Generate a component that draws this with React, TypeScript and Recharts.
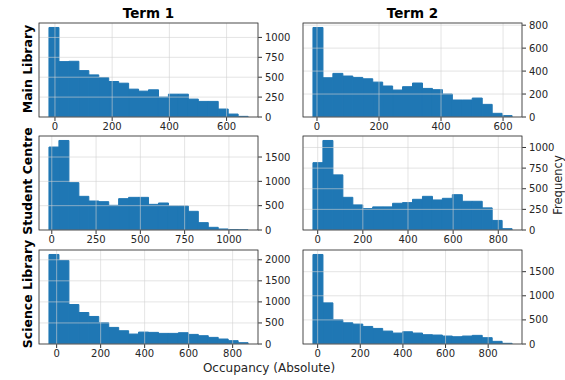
import React from "react";
import { BarChart, Bar, XAxis, YAxis, CartesianGrid } from "recharts";

// counts per bin (20 bins each)
const mainLibraryT1 = [1125, 696, 700, 583, 529, 496, 446, 425, 350, 325, 342, 250, 287, 287, 225, 196, 196, 100, 37, 8];
const mainLibraryT2 = [780, 342, 380, 357, 345, 333, 304, 270, 235, 264, 296, 249, 238, 200, 148, 148, 165, 110, 32, 12];
const studentCentreT1 = [1705, 1840, 973, 692, 596, 582, 507, 644, 671, 671, 527, 555, 493, 493, 384, 151, 55, 21, 7, 2];
const studentCentreT2 = [816, 1085, 668, 396, 304, 260, 280, 280, 324, 332, 372, 408, 364, 384, 428, 348, 348, 268, 116, 16];
const scienceLibraryT1 = [2126, 1984, 937, 748, 654, 504, 394, 315, 236, 283, 276, 252, 252, 268, 228, 197, 157, 118, 79, 31];
const scienceLibraryT2 = [1857, 853, 502, 440, 413, 364, 323, 268, 227, 254, 227, 193, 186, 165, 151, 165, 179, 131, 55, 14];

// first bin edge and bin width, same panel order as above
const binStarts = [-21, -13, -16, -21, -35, -22];
const binWidths = [34.8, 32.1, 56.2, 44.1, 45.25, 46.7];

const terms = ["Term 1", "Term 2"];
const locations = ["Main Library", "Student Centre", "Science Library"];

const xTicks600 = [0, 200, 400, 600];
const xTicks800 = [0, 200, 400, 600, 800];
const xTicks1000 = [0, 250, 500, 750, 1000];
const yTicks250 = [0, 250, 500, 750, 1000];
const yTicks200 = [0, 200, 400, 600, 800];
const yTicks500 = [0, 500, 1000, 1500];
const yTicks2000 = [0, 500, 1000, 1500, 2000];

const BLUE = "#1f77b4";
const FONT = "'DejaVu Sans', sans-serif";
const PW = 219;
const PH = 94;
const M = 3;
const AXW = 40;
const AXH = 20;

const tickStyle = { fontSize: 10, fill: "#262626", fontFamily: FONT };

interface HistProps {
  counts: number[];
  start: number;
  width: number;
  xTicks: number[];
  yTicks: number[];
  left: number;
  top: number;
}

const Hist: React.FC<HistProps> = ({ counts, start, width, xTicks, yTicks, left, top }) => {
  const rows = counts.map((c, i) => ({ x: start + width * (i + 0.5), count: c }));
  const span = width * counts.length;
  const domain: [number, number] = [start - span * 0.05, start + span * 1.05];

  return (
    <div style={{ position: "absolute", left: left - M, top: top - M }}>
      <BarChart
        width={PW + 2 * M + AXW}
        height={PH + M + AXH}
        data={rows}
        margin={{ top: M, right: M, left: M, bottom: 0 }}
        barCategoryGap={0}
        barGap={0}
      >
        <XAxis
          dataKey="x"
          type="number"
          domain={domain}
          allowDataOverflow
          ticks={xTicks}
          interval={0}
          height={AXH}
          axisLine={false}
          tickSize={4}
          tickMargin={2}
          tickLine={{ stroke: "#333" }}
          tick={tickStyle}
        />
        <YAxis
          orientation="right"
          type="number"
          domain={[0, (m: number) => m * 1.05]}
          allowDataOverflow
          ticks={yTicks}
          interval={0}
          width={AXW}
          axisLine={false}
          tickSize={4}
          tickMargin={3}
          tickLine={{ stroke: "#333" }}
          tick={{ ...tickStyle, textAnchor: "start" }}
        />
        <Bar dataKey="count" fill={BLUE} stroke={BLUE} strokeWidth={1} isAnimationActive={false} />
        {/* grid sits above the bars like in matplotlib */}
        <CartesianGrid stroke="#d2d2d2" strokeWidth={0.8} strokeOpacity={0.75} zIndex={1000} />
      </BarChart>
      <svg
        width={PW + 2 * M}
        height={PH + 2 * M}
        style={{ position: "absolute", left: 0, top: 0, pointerEvents: "none" }}
      >
        <rect x={M} y={M} width={PW} height={PH} fill="none" stroke="#333" strokeWidth={0.8} />
      </svg>
    </div>
  );
};

export default function App() {
  const lefts = [39, 303];
  const tops = [23, 136, 250];
  const rowCenters = [69, 181, 294];

  return (
    <div style={{ position: "absolute", left: 0, top: 0, width: 565, height: 380, background: "#fff", overflow: "hidden" }}>
      <Hist counts={mainLibraryT1} start={binStarts[0]} width={binWidths[0]} xTicks={xTicks600} yTicks={yTicks250} left={lefts[0]} top={tops[0]} />
      <Hist counts={mainLibraryT2} start={binStarts[1]} width={binWidths[1]} xTicks={xTicks600} yTicks={yTicks200} left={lefts[1]} top={tops[0]} />
      <Hist counts={studentCentreT1} start={binStarts[2]} width={binWidths[2]} xTicks={xTicks1000} yTicks={yTicks500} left={lefts[0]} top={tops[1]} />
      <Hist counts={studentCentreT2} start={binStarts[3]} width={binWidths[3]} xTicks={xTicks800} yTicks={yTicks250} left={lefts[1]} top={tops[1]} />
      <Hist counts={scienceLibraryT1} start={binStarts[4]} width={binWidths[4]} xTicks={xTicks800} yTicks={yTicks2000} left={lefts[0]} top={tops[2]} />
      <Hist counts={scienceLibraryT2} start={binStarts[5]} width={binWidths[5]} xTicks={xTicks800} yTicks={yTicks500} left={lefts[1]} top={tops[2]} />

      <svg width={565} height={380} style={{ position: "absolute", left: 0, top: 0, pointerEvents: "none" }}>
        {terms.map((t, i) => (
          <text key={t} x={lefts[i] + PW / 2} y={18} textAnchor="middle" fontFamily={FONT} fontWeight="bold" fontSize={13.5} fill="#000">
            {t}
          </text>
        ))}
        {locations.map((name, i) => (
          <text
            key={name}
            x={27}
            y={rowCenters[i]}
            transform={`rotate(-90 27 ${rowCenters[i]})`}
            textAnchor="middle"
            dominantBaseline="central"
            fontFamily={FONT}
            fontWeight="bold"
            fontSize={12.5}
            fill="#000"
          >
            {name}
          </text>
        ))}
        <text x={269} y={372} textAnchor="middle" fontFamily={FONT} fontSize={12} fill="#262626">
          Occupancy (Absolute)
        </text>
        <text
          x={558}
          y={185}
          transform="rotate(-90 558 185)"
          textAnchor="middle"
          dominantBaseline="central"
          fontFamily={FONT}
          fontSize={11.5}
          fill="#262626"
        >
          Frequency
        </text>
      </svg>
    </div>
  );
}
